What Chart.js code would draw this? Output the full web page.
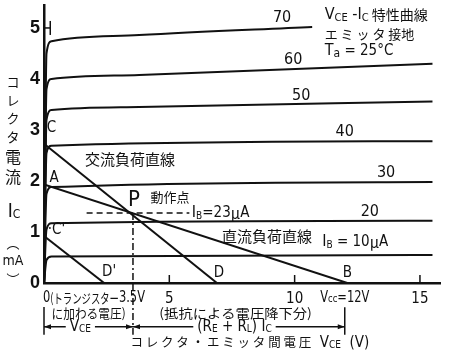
<!DOCTYPE html>
<html><head><meta charset="utf-8">
<script src="https://cdn.jsdelivr.net/npm/chart.js@4/dist/chart.umd.min.js"></script>
<style>html,body{margin:0;padding:0;background:#fff}#wrap{width:450px;height:358px}</style>
</head><body><div id="wrap"><canvas id="c"></canvas></div>
<script>
// ---- data (V_CE in volts, I_C in mA) ----
const curveNames = ['10', '20', '30', '40', '50', '60', '70'];
const ib10 = [[0,0],[0.1,0.45],[0.3,0.52],[15.5,0.55]];
const ib20 = [[0,0],[0.1,1.05],[0.3,1.17],[15.5,1.22]];
const ib30 = [[0,0],[0.1,1.75],[0.3,1.88],[15.5,1.98]];
const ib40 = [[0,0],[0.1,2.55],[0.3,2.69],[15.5,2.78]];
const ib50 = [[0,0],[0.1,3.2],[0.3,3.39],[3.8,3.45],[15.5,3.56]];
const ib60 = [[0,0],[0.1,3.8],[0.3,4.0],[3.8,4.08],[15.5,4.3]];
const ib70 = [[0,0],[0.1,4.5],[0.3,4.74],[3.8,4.86],[10.7,5.02]];
const dcLoad = [[0,1.93],[12.1,0]];
const acLoad = [[0,2.73],[6.9,0]];
const acLoad2 = [[0,0.92],[2.4,0]];
const qHoriz = [[1.7,1.37],[5.8,1.37]];
const qVert = [[3.55,1.37],[3.55,0]];
const xTicks = [5, 10, 15];
const xTickLabels = ['5', '10', '15'];
const xTickMarks = [5, 10, 15];
const yTicks = [0, 1, 2, 3, 4, 5];

const JP = '"Noto Sans CJK JP", sans-serif';
const NUM = '"Liberation Sans Narrow", "DejaVu Sans Condensed", "Liberation Sans", sans-serif';
const INK = '#111';
const pts = a => a.map(p => ({x: p[0], y: p[1]}));

function curve(a) {
  return {data: pts(a), showLine: true, borderColor: INK, borderWidth: 2, pointRadius: 0, cubicInterpolationMode: 'monotone'};
}
function straight(a, w, dash) {
  return {data: pts(a), showLine: true, borderColor: INK, borderWidth: w, pointRadius: 0, borderDash: dash || []};
}

// rich text: parts = [text, size, dy, family, scaleX]
function rich(ctx, x, y, parts, align) {
  let w = 0;
  parts.forEach(p => { ctx.font = p[1] + 'px ' + (p[3] || NUM); w += ctx.measureText(p[0]).width * (p[4] || 1); });
  let cx = align === 'center' ? x - w / 2 : align === 'right' ? x - w : x;
  ctx.textBaseline = 'middle'; ctx.textAlign = 'left'; ctx.fillStyle = INK;
  parts.forEach(p => {
    const sx = p[4] || 1;
    ctx.font = p[1] + 'px ' + (p[3] || NUM);
    ctx.save(); ctx.translate(cx, y + (p[2] || 0)); ctx.scale(sx, 1);
    ctx.fillText(p[0], 0, 0); ctx.restore();
    cx += ctx.measureText(p[0]).width * sx;
  });
  return w;
}

const annot = {
  id: 'annot',
  afterDraw(chart) {
    const ctx = chart.ctx, xs = chart.scales.x, ys = chart.scales.y;
    const X = v => xs.getPixelForValue(v), Y = v => ys.getPixelForValue(v);
    ctx.save();
    ctx.strokeStyle = INK; ctx.fillStyle = INK;
    // tick marks on x axis (upward)
    ctx.lineWidth = 1.5;
    xTickMarks.forEach(v => { ctx.beginPath(); ctx.moveTo(X(v), Y(0)); ctx.lineTo(X(v), Y(0) - 8); ctx.stroke(); });
    ctx.beginPath(); ctx.moveTo(X(0), Y(5)); ctx.lineTo(X(0) + 7, Y(5)); ctx.stroke();
    ctx.beginPath(); ctx.moveTo(X(0.25), Y(5) - 7); ctx.lineTo(X(0.25), Y(5) + 7); ctx.stroke();

    // curve labels
    const cl = [[9.5,5.2],[9.94,4.37],[10.26,3.67],[12.0,2.96],[13.65,2.16],[13.0,1.39]];
    const names = ['70','60','50','40','30','20'];
    names.forEach((n, i) => rich(ctx, X(cl[i][0]), Y(cl[i][1]), [[n, 16]], 'center'));
    rich(ctx, X(11.1), Y(0.8), [['I', 16], ['B', 10, 3], [' = 10', 15], ['μ', 15, 0, JP], ['A', 15]], 'left');
    rich(ctx, X(3.35), Y(1.63), [['P', 22]], 'left');
    rich(ctx, X(4.25), Y(1.68), [['動作点', 13, 0, JP]], 'left');
    rich(ctx, X(5.9), Y(1.37), [['I', 16], ['B', 10, 3], ['=23', 15], ['μ', 15, 0, JP], ['A', 15]], 'left');
    rich(ctx, X(1.64), Y(2.43), [['交流負荷直線', 15, 0, JP]], 'left');
    rich(ctx, X(7.1), Y(0.92), [['直流負荷直線', 15, 0, JP]], 'left');
    rich(ctx, X(0.3), Y(3.04), [['C', 15]], 'center');
    rich(ctx, X(0.4), Y(2.06), [['A', 15]], 'center');
    rich(ctx, X(0.15), Y(1.04), [['·C\'', 15]], 'left');
    rich(ctx, X(2.6), Y(0.22), [['D\'', 15]], 'center');
    rich(ctx, X(6.98), Y(0.2), [['D', 15]], 'center');
    rich(ctx, X(12.1), Y(0.2), [['B', 15]], 'center');
    // title block
    rich(ctx, X(11.2), Y(5.26), [['V', 16], ['CE', 11, 3], [' -I', 16], ['C', 11, 3], [' 特性曲線', 14, 0, JP]], 'left');
    rich(ctx, X(11.2), Y(4.88), [['エ ミ ッ タ 接地', 13, 0, JP]], 'left');
    rich(ctx, X(11.2), Y(4.55), [['T', 16], ['a', 12, 3], [' = 25°C', 15]], 'left');

    // y-axis title (vertical stack)
    const col = ['コ','レ','ク','タ','電','流'];
    const cy = [82, 100, 118, 137, 157, 177];
    col.forEach((c, i) => rich(ctx, 13, cy[i], [[c, i < 4 ? 13 : 16, 0, JP]], 'center'));
    rich(ctx, 14, 212, [['I', 19], ['C', 12, 3]], 'center');
    rich(ctx, 13, 243, [['︵', 13, 0, JP]], 'center');
    rich(ctx, 13, 261, [['mA', 14]], 'center');
    rich(ctx, 13, 279, [['︶', 13, 0, JP]], 'center');

    // bottom annotation rows
    const r1 = Y(-0.3), r2 = Y(-0.59), r3 = Y(-0.86), r4 = Y(-1.17);
    rich(ctx, X(0) - 1, r1, [['0', 15, 0, NUM, 0.85], ['(トランジスター', 13, 0, JP, 0.72]], 'left');
    rich(ctx, X(3.55) + 12, r1, [['3.5V', 15, 0, NUM, 0.85]], 'right');
    rich(ctx, X(12.0), r1, [['V', 15, 0, NUM, 0.85], ['cc', 11, 1, NUM, 0.85], ['=12V', 15, 0, NUM, 0.85]], 'center');
    rich(ctx, X(0.3), r2, [['に加わる電圧)', 13, 0, JP, 0.9]], 'left');
    rich(ctx, X(4.6), r2, [['(抵抗による電圧降下分)', 13, 0, JP, 1.1]], 'left');
    ctx.lineWidth = 1.5;
    // verticals
    ctx.beginPath(); ctx.moveTo(X(0), r2 - 6); ctx.lineTo(X(0), r3 + 8); ctx.stroke();
    ctx.beginPath(); ctx.moveTo(X(12.0), r1 + 9); ctx.lineTo(X(12.0), r3 + 8); ctx.stroke();
    ctx.setLineDash([7, 3, 2, 3]);
    ctx.beginPath(); ctx.moveTo(X(3.55), Y(0)); ctx.lineTo(X(3.55), r3 + 8); ctx.stroke();
    ctx.setLineDash([]);
    // dimension arrows
    function dim(a, b, label, parts) {
      const xa = X(a), xb = X(b);
      let w = 0; parts.forEach(p => { ctx.font = p[1] + 'px ' + (p[3] || NUM); w += ctx.measureText(p[0]).width; });
      const mid = X(label);
      ctx.beginPath(); ctx.moveTo(xa, r3); ctx.lineTo(mid - w / 2 - 4, r3); ctx.moveTo(mid + w / 2 + 4, r3); ctx.lineTo(xb, r3); ctx.stroke();
      [[xa, 1], [xb, -1]].forEach(([px, d]) => {
        ctx.beginPath(); ctx.moveTo(px, r3); ctx.lineTo(px + 7 * d, r3 - 2.5); ctx.lineTo(px + 7 * d, r3 + 2.5); ctx.closePath(); ctx.fill();
      });
      rich(ctx, mid, r3, parts, 'center');
    }
    dim(0, 3.55, 1.45, [['V', 15], ['CE', 10, 3]]);
    dim(3.55, 12.0, 7.6, [['(R', 15], ['E', 10, 3], [' + R', 15], ['L', 10, 3], [') I', 15], ['C', 10, 3]]);
    rich(ctx, X(3.45), r4, [['コ レ ク タ ・ エ ミ ッ タ 間 電 圧', 12.5, 0, JP], ['  V', 15], ['CE', 10, 3], ['  (V)', 15]], 'left');
    ctx.restore();
  }
};

new Chart(document.getElementById('c'), {
  type: 'scatter',
  data: {datasets: [
    curve(ib10), curve(ib20), curve(ib30), curve(ib40), curve(ib50), curve(ib60), curve(ib70),
    straight(dcLoad, 2), straight(acLoad, 2), straight(acLoad2, 2),
    straight(qHoriz, 1.5, [6, 4]), straight(qVert, 1.5, [7, 3, 2, 3])
  ]},
  options: {
    responsive: true, maintainAspectRatio: false, animation: false,
    layout: {padding: {top: 5, right: 10, left: 0, bottom: 0}},
    plugins: {legend: {display: false}, tooltip: {enabled: false}},
    scales: {
      x: {type: 'linear', min: 0, max: 15.8,
        afterBuildTicks: s => { s.ticks = xTicks.map(v => ({value: v})); },
        afterFit: s => { s.height = 75; s.paddingLeft = 0; s.paddingRight = 0; },
        grid: {display: false, drawTicks: false},
        border: {display: true, color: INK, width: 2.5},
        ticks: {padding: 7, color: INK, maxRotation: 0, autoSkip: false, font: {family: NUM, size: 15},
          callback: (v) => { const i = xTicks.indexOf(v); return i >= 0 ? xTickLabels[i] : ''; }}
      },
      y: {type: 'linear', min: 0, max: 5.45,
        afterBuildTicks: s => { s.ticks = yTicks.map(v => ({value: v})); },
        afterFit: s => { s.width = 44; s.paddingTop = 0; s.paddingBottom = 0; },
        grid: {display: false, drawTicks: false},
        border: {display: true, color: INK, width: 2.5},
        ticks: {padding: 4, color: INK, font: {family: '"Liberation Sans", sans-serif', size: 18, weight: 'bold'},
          callback: v => String(v)}
      }
    }
  },
  plugins: [annot]
});
</script></body></html>
